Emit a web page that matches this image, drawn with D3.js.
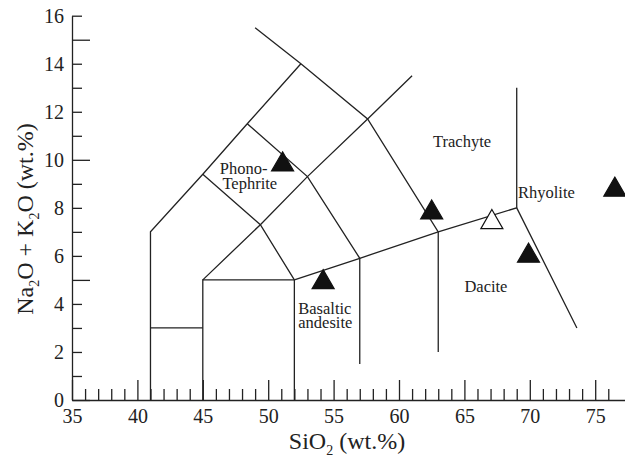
<!DOCTYPE html>
<html>
<head>
<meta charset="utf-8">
<script src="https://cdn.jsdelivr.net/npm/d3@7"></script>
<style>
  body { margin: 0; background: #fff; }
</style>
</head>
<body>
<script>
// TAS field boundaries (SiO2, Na2O+K2O)
const boundaries = [
    [[41, 0], [41, 7], [45, 9.4], [48.4, 11.5], [52.5, 14]],
    [[49, 15.5], [52.5, 14], [57.6, 11.7], [63, 7], [63, 2]],
    [[41, 3], [45, 3]],
    [[45, 0], [45, 5], [52, 5], [52, 0]],
    [[45, 5], [49.4, 7.3], [53, 9.3], [57.6, 11.7], [61, 13.5]],
    [[45, 9.4], [49.4, 7.3], [52, 5]],
    [[48.4, 11.5], [53, 9.3], [57, 5.9], [57, 1.5]],
    [[52, 5], [57, 5.9], [63, 7], [69, 8], [73.6, 3]],
    [[69, 8], [69, 13]]
];

// samples
const sio2   = [51.1, 54.2, 62.5, 67.1, 69.9, 76.5];
const alkali = [9.8, 4.9, 7.8, 7.4, 6.0, 8.75];
const filled = [true, true, true, false, true, true];

// field names
const fieldNames = ["Phono-", "Tephrite", "Basaltic", "andesite", "Trachyte", "Rhyolite", "Dacite"];
const fieldX     = [46.3, 46.5, 52.3, 52.3, 62.6, 69.1, 65.0];
const fieldY     = [9.4, 8.8, 3.6, 3.0, 10.55, 8.4, 4.5];

const xTicks = d3.range(35, 77);
const yTicks = d3.range(0, 17);

const serif = "'Liberation Serif', 'Times New Roman', serif";
const width = 625, height = 457;
const svg = d3.select('body').append('svg')
    .attr('width', width)
    .attr('height', height)
    .style('font-family', serif);

const x = d3.scaleLinear().domain([35, 77.5]).range([72, 72 + 42.5 * 13.08]);
const y = d3.scaleLinear().domain([0, 16]).range([400, 15.7]);

// axes with ticks pointing into the plot
const xAxis = d3.axisBottom(x)
    .tickValues(xTicks)
    .tickSizeInner(-11)
    .tickSizeOuter(0)
    .tickPadding(9)
    .tickFormat(d => d % 5 === 0 ? d : '');

const yAxis = d3.axisLeft(y)
    .tickValues(yTicks)
    .tickSizeInner(-10)
    .tickSizeOuter(0)
    .tickPadding(8)
    .tickFormat(d => d % 2 === 0 ? d : '');

const gx = svg.append('g')
    .attr('transform', `translate(0, ${y(0)})`)
    .call(xAxis);
gx.selectAll('.tick line').attr('y2', d => d % 5 === 0 ? -20 : -11);

const gy = svg.append('g')
    .attr('transform', `translate(${x(35)}, 0)`)
    .call(yAxis);
gy.selectAll('.tick line').attr('x2', d => d % 5 === 0 ? 18 : 10);

svg.selectAll('g').attr('font-family', null);
svg.selectAll('.domain, .tick line').attr('stroke', '#222').attr('stroke-width', 1.3);
svg.selectAll('.tick text')
    .style('font-family', serif)
    .style('font-size', '20px')
    .attr('fill', '#222');

// boundary lines
const line = d3.line().x(d => x(d[0])).y(d => y(d[1]));
svg.append('g').selectAll('path')
    .data(boundaries)
    .enter()
    .append('path')
    .attr('d', line)
    .attr('fill', 'none')
    .attr('stroke', '#222')
    .attr('stroke-width', 1.3);

// field labels
svg.append('g').selectAll('text')
    .data(fieldNames)
    .enter()
    .append('text')
    .attr('x', (d, i) => x(fieldX[i]))
    .attr('y', (d, i) => y(fieldY[i]))
    .style('font-family', serif)
    .style('font-size', '16.5px')
    .attr('fill', '#222')
    .text(d => d);

// sample triangles
svg.append('g').selectAll('path')
    .data(sio2)
    .enter()
    .append('path')
    .attr('d', d3.symbol().type(d3.symbolTriangle).size(210))
    .attr('transform', (d, i) => `translate(${x(d)}, ${y(alkali[i])})`)
    .attr('fill', (d, i) => filled[i] ? '#111' : '#fff')
    .attr('stroke', '#111')
    .attr('stroke-width', 1.2);

// axis titles
svg.append('text')
    .attr('x', 347)
    .attr('y', 449)
    .attr('text-anchor', 'middle')
    .style('font-family', serif)
    .style('font-size', '24px')
    .attr('fill', '#222')
    .html('SiO<tspan dy="6" font-size="14">2</tspan><tspan dy="-6"> (wt.%)</tspan>');

svg.append('text')
    .attr('transform', 'translate(33, 219) rotate(-90)')
    .attr('text-anchor', 'middle')
    .style('font-family', serif)
    .style('font-size', '24px')
    .attr('fill', '#222')
    .html('Na<tspan dy="6" font-size="14">2</tspan><tspan dy="-6">O + K</tspan><tspan dy="6" font-size="14">2</tspan><tspan dy="-6">O (wt.%)</tspan>');
</script>
</body>
</html>
